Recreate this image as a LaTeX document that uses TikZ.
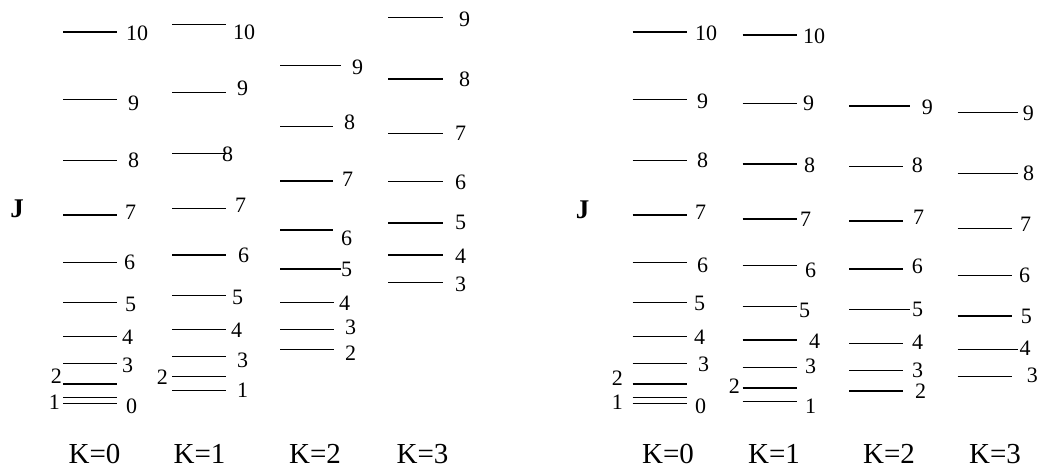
\documentclass[tikz,border=0pt]{standalone}
\usepackage{fontspec}
\setmainfont{Liberation Serif}
\begin{document}
\begin{tikzpicture}[x=1pt,y=-1pt,
  lvl/.style={line width=1.3pt},
  num/.style={font=\fontsize{22}{22}\selectfont, inner sep=0pt, anchor=west},
  numl/.style={num, anchor=east},
  klab/.style={font=\fontsize{29}{29}\selectfont, inner sep=0pt},
  jlab/.style={font=\fontsize{27}{27}\selectfont\bfseries, inner sep=0pt}]
\useasboundingbox (0,0) rectangle (1039,469);
% ---------- left panel ----------
\node[jlab] (JL) at (17,209) {J};
% K=0
\foreach \xa/\xb/\y/\lx/\ly/\t [count=\i] in {
  63/117/32/126/33/10, 63/117/99.3/128/103/9, 63/117/160.7/128/160/8,
  63/117/215/125/212/7, 63/117/262.3/124/262/6, 63/117/302.3/125/304/5,
  63/117/336.7/122/337/4, 63/117/363.7/122/365/3, 63/117/403.7/126/406/0}
  { \draw[lvl] (\xa,\y) -- (\xb,\y); \node[num] (la\i) at (\lx,\ly) {\t}; }
\draw[lvl] (63,384) -- (117,384); \node[numl] (la2) at (62,376) {2};
\draw[lvl] (63,397.3) -- (117,397.3); \node[numl] (la1) at (60,402) {1};
% K=1
\foreach \xa/\xb/\y/\lx/\ly/\t [count=\i] in {
  172/226/24.7/233/32/10, 172/226/92.7/237/88/9, 172/226/153.7/222/154/8,
  172/226/208.3/235/205/7, 172/226/255/238/255/6, 172/226/295.7/232/297/5,
  172/226/329.7/231/330/4, 172/226/356.7/237/360/3, 172/226/390.7/237/390/1}
  { \draw[lvl] (\xa,\y) -- (\xb,\y); \node[num] (lb\i) at (\lx,\ly) {\t}; }
\draw[lvl] (172,376.7) -- (226,376.7); \node[numl] (lb2) at (168,377) {2};
% K=2
\foreach \xa/\xb/\y/\lx/\ly/\t [count=\i] in {
  280/340.7/65.7/352/67/9, 280/333/126.7/344/122/8, 280/333/181/342/179/7,
  280/333/230/341/238/6, 280/340.7/269/341/269/5, 280/334/302.3/339/303/4,
  280/334/329.7/345/327/3, 280/334/349.7/345/353/2}
  { \draw[lvl] (\xa,\y) -- (\xb,\y); \node[num] (lc\i) at (\lx,\ly) {\t}; }
% K=3
\foreach \xa/\xb/\y/\lx/\ly/\t [count=\i] in {
  388/443/17.7/459/19/9, 388/443/79/459/79.5/8, 388/443/133.3/455/133/7,
  388/443/181.7/455/182/6, 388/443/223/455/222/5, 388/443/255/455/256/4,
  388/443/282.3/455/284/3}
  { \draw[lvl] (\xa,\y) -- (\xb,\y); \node[num] (ld\i) at (\lx,\ly) {\t}; }
\node[klab] (KL0) at (94.5,454) {K=0};
\node[klab] (KL1) at (199.5,454) {K=1};
\node[klab] (KL2) at (315,454) {K=2};
\node[klab] (KL3) at (422.5,454) {K=3};
% ---------- right panel ----------
\node[jlab] (JR) at (582.5,210) {J};
% K=0
\foreach \xa/\xb/\y/\lx/\ly/\t [count=\i] in {
  632.7/686.7/32/695/33/10, 632.7/686.7/99.3/697/101/9, 632.7/686.7/160.7/697/160/8,
  632.7/686.7/215/695/212/7, 632.7/686.7/262.3/697/265/6, 632.7/686.7/302.3/694/303/5,
  632.7/686.7/336.7/694/337.5/4, 632.7/686.7/363.7/698/364/3, 632.7/686.7/403.7/695/406/0}
  { \draw[lvl] (\xa,\y) -- (\xb,\y); \node[num] (ra\i) at (\lx,\ly) {\t}; }
\draw[lvl] (632.7,384) -- (686.7,384); \node[numl] (ra2) at (623,378) {2};
\draw[lvl] (632.7,397.3) -- (686.7,397.3); \node[numl] (ra1) at (623,402) {1};
% K=1
\foreach \xa/\xb/\y/\lx/\ly/\t [count=\i] in {
  742.7/796.7/35/803/36/10, 742.7/796.7/103.3/803/103/9, 742.7/796.7/164/804/165/8,
  742.7/796.7/219/800/219/7, 742.7/796.7/265.7/805/270/6, 742.7/796.7/306.7/799/310/5,
  742.7/796.7/340/809/341/4, 742.7/796.7/367.3/805/366/3, 742.7/796.7/401.7/805/406/1}
  { \draw[lvl] (\xa,\y) -- (\xb,\y); \node[num] (rb\i) at (\lx,\ly) {\t}; }
\draw[lvl] (742.7,388) -- (796.7,388); \node[numl] (rb2) at (740,386) {2};
% K=2
\foreach \xa/\xb/\y/\lx/\ly/\t [count=\i] in {
  849.3/910/106/921.7/107/9, 849.3/903.3/166.7/911.7/165/8, 849.3/903.3/221/913/217/7,
  849.3/903.3/269/911.7/266/6, 849.3/910/309.3/912/309/5, 849.3/903.3/343.3/912/342/4,
  849.3/903.3/370.7/912/370/3, 849.3/903.3/391/915/391/2}
  { \draw[lvl] (\xa,\y) -- (\xb,\y); \node[num] (rc\i) at (\lx,\ly) {\t}; }
% K=3
\foreach \xa/\xb/\y/\lx/\ly/\t [count=\i] in {
  957.7/1018.3/112.7/1022.7/113/9, 957.7/1018.3/173.3/1023/173/8, 957.7/1011.7/228.3/1020/224/7,
  957.7/1011.7/275.7/1019/275/6, 957.7/1011.7/316/1020.7/316/5, 957.7/1018/349.3/1019.5/348/4,
  957.7/1011.7/376.7/1026.7/375/3}
  { \draw[lvl] (\xa,\y) -- (\xb,\y); \node[num] (rd\i) at (\lx,\ly) {\t}; }
\node[klab] (KR0) at (668,454) {K=0};
\node[klab] (KR1) at (774,454) {K=1};
\node[klab] (KR2) at (889,454) {K=2};
\node[klab] (KR3) at (995,454) {K=3};
\end{tikzpicture}
\end{document}
